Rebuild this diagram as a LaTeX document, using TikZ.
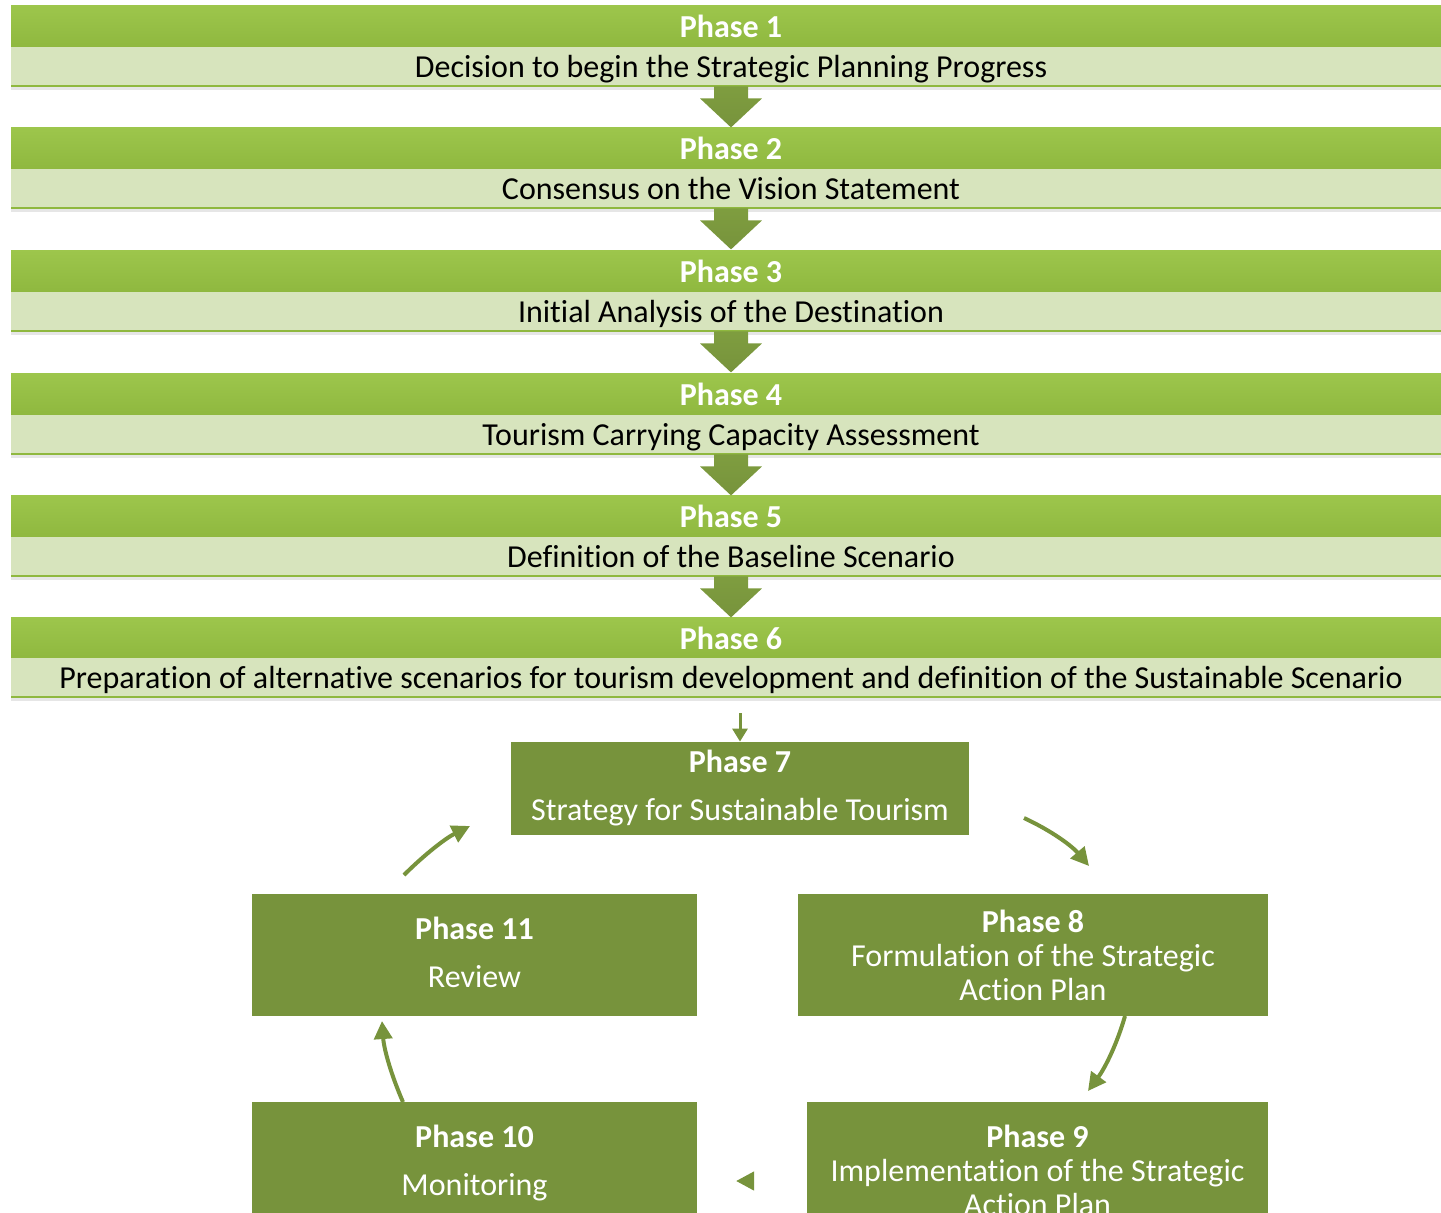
\documentclass[tikz,border=0pt]{standalone}
\usepackage{fontspec}
\setmainfont{Carlito}[Ligatures=NoCommon]
\usetikzlibrary{arrows.meta,shadows}
\definecolor{phasegreen}{HTML}{9DC64C}
\definecolor{phasegreendark}{HTML}{8FB83F}
\definecolor{steplight}{HTML}{D7E4BD}
\definecolor{cyclegreen}{HTML}{77933C}
\begin{document}
\begin{tikzpicture}[x=0.5pt,y=-0.5pt]
	\tikzstyle{phasebar}=[rectangle,top color=phasegreen,bottom color=phasegreendark,minimum width=720pt,minimum height=21pt,inner sep=0pt,text=white,font=\fontsize{16}{17}\selectfont\bfseries]
	\tikzstyle{stepbar}=[rectangle,fill=steplight,minimum width=720pt,minimum height=19.5pt,inner sep=0pt,text height=14pt,text depth=3pt,text=black,font=\fontsize{16}{17}\selectfont,drop shadow={shadow xshift=0pt,shadow yshift=-2pt,opacity=0.2},path picture={\draw[phasegreendark,line width=1.2pt] (path picture bounding box.south west) -- (path picture bounding box.south east);}]
	\tikzstyle{chevron}=[top color=cyclegreen!80!phasegreen,bottom color=cyclegreen]
	\tikzstyle{cyclebox}=[rectangle,fill=cyclegreen,inner sep=0pt,align=center,text=white,font=\fontsize{16}{17}\selectfont]
	\tikzstyle{stepedge}=[draw=cyclegreen,line width=1.5pt,-{Triangle[length=6.5pt,width=7.5pt]}]
	\tikzstyle{cycleedge}=[draw=cyclegreen,line width=2pt,-{Triangle[length=9pt,width=9pt]}]
	\useasboundingbox (0,0) rectangle (1441,1212);
	\begin{scope}
		\node [phasebar] (p1) at (731,26) {Phase 1};
		\node [stepbar] (s1) at (731,66.5) {Decision to begin the Strategic Planning Progress};
		\node [phasebar] (p2) at (731,148) {Phase 2};
		\node [stepbar] (s2) at (731,188.5) {Consensus on the Vision Statement};
		\node [phasebar] (p3) at (731,271) {Phase 3};
		\node [stepbar] (s3) at (731,311.5) {Initial Analysis of the Destination};
		\node [phasebar] (p4) at (731,394) {Phase 4};
		\node [stepbar] (s4) at (731,434.5) {Tourism Carrying Capacity Assessment};
		\node [phasebar] (p5) at (731,516) {Phase 5};
		\node [stepbar] (s5) at (731,556.5) {Definition of the Baseline Scenario};
		\node [phasebar] (p6) at (731,638) {Phase 6};
		\node [stepbar] (s6) at (731,677.5) {Preparation of alternative scenarios for tourism development and definition of the Sustainable Scenario};
	\end{scope}
	\path[chevron,shift={(s1.south)}] (-17,0) -- (17,0) -- (17,12) -- (31,12) -- (0,41) -- (-31,12) -- (-17,12) -- cycle;
	\path[chevron,shift={(s2.south)}] (-17,0) -- (17,0) -- (17,12) -- (31,12) -- (0,41) -- (-31,12) -- (-17,12) -- cycle;
	\path[chevron,shift={(s3.south)}] (-17,0) -- (17,0) -- (17,12) -- (31,12) -- (0,41) -- (-31,12) -- (-17,12) -- cycle;
	\path[chevron,shift={(s4.south)}] (-17,0) -- (17,0) -- (17,12) -- (31,12) -- (0,41) -- (-31,12) -- (-17,12) -- cycle;
	\path[chevron,shift={(s5.south)}] (-17,0) -- (17,0) -- (17,12) -- (31,12) -- (0,41) -- (-31,12) -- (-17,12) -- cycle;
	\begin{scope}
		\node [cyclebox,minimum width=229pt,minimum height=46.5pt] (p7) at (740,788.5) {\textbf{Phase 7}\\[7pt]Strategy for Sustainable Tourism};
		\node [cyclebox,minimum width=235pt,minimum height=61pt] (p8) at (1033,955) {\textbf{Phase 8}\\Formulation of the Strategic\\Action Plan};
		\node [cyclebox,minimum width=230.5pt,minimum height=68pt] (p9) at (1037.5,1170) {\textbf{Phase 9}\\Implementation of the Strategic\\Action Plan};
		\node [cyclebox,minimum width=222.5pt,minimum height=61pt] (p10) at (474.5,1163) {\textbf{Phase 10}\\[7pt]Monitoring};
		\node [cyclebox,minimum width=222.5pt,minimum height=61pt,text depth=3pt] (p11) at (474.5,955) {\textbf{Phase 11}\\[7pt]Review};
		\coordinate (a67) at (740,713);
		\coordinate (a78) at (1024,818);
		\coordinate (b78) at (1089,866);
		\coordinate (a89) at (1125,1016);
		\coordinate (b89) at (1088,1091);
		\coordinate (a910) at (754,1181);
		\coordinate (b910) at (736,1181);
		\coordinate (a1011) at (403,1102);
		\coordinate (b1011) at (382,1021);
		\coordinate (a117) at (404,875);
		\coordinate (b117) at (470,826);
		\path[stepedge] (a67) -- (p7.north);
		\path[cycleedge] (a78) .. controls (1052,831) and (1072,846) .. (b78);
		\path[cycleedge] (a89) .. controls (1117,1044) and (1105,1068) .. (b89);
		\path[cycleedge] (a910) -- (b910);
		\path[cycleedge] (a1011) .. controls (392,1077) and (384,1050) .. (b1011);
		\path[cycleedge] (a117) .. controls (425,854) and (446,838) .. (b117);
	\end{scope}
\end{tikzpicture}
\end{document}
